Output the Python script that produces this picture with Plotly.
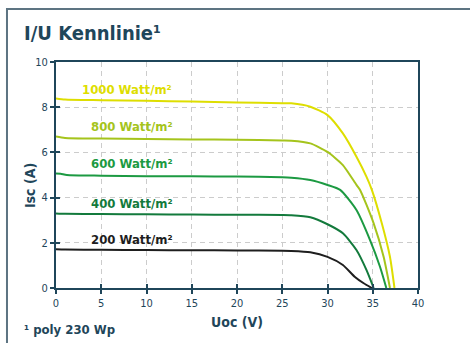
import plotly.graph_objects as go

# ---- data ----
series_names = ["1000 Watt/m²", "800 Watt/m²", "600 Watt/m²", "400 Watt/m²", "200 Watt/m²"]

u_1000 = [0, 1, 5, 10, 15, 20, 25, 26, 28.1, 30, 31.7, 33.2, 34.3, 34.9, 36.0, 36.9, 37.4]
i_1000 = [8.39, 8.34, 8.31, 8.28, 8.25, 8.21, 8.18, 8.17, 8.02, 7.65, 6.84, 5.81, 4.93, 4.34, 2.86, 1.38, 0]

u_800 = [0, 1, 5, 10, 15, 20, 25, 26, 28.1, 30, 31.7, 33.2, 33.6, 35.1, 36.2, 36.9]
i_800 = [6.70, 6.64, 6.61, 6.59, 6.57, 6.56, 6.53, 6.52, 6.40, 6.02, 5.44, 4.56, 4.34, 2.86, 1.38, 0]

u_600 = [0, 0.5, 1.2, 5, 10, 15, 20, 25, 26, 28.1, 30, 31.4, 33.2, 34.7, 35.8, 36.5]
i_600 = [5.07, 5.06, 5.00, 4.97, 4.95, 4.94, 4.93, 4.90, 4.88, 4.78, 4.56, 4.34, 3.45, 2.12, 0.94, 0]

u_400 = [0, 1, 5, 10, 15, 20, 25, 26, 28.1, 30, 31.7, 33.2, 34.3, 35.1]
i_400 = [3.30, 3.28, 3.27, 3.26, 3.25, 3.24, 3.23, 3.22, 3.13, 2.82, 2.42, 1.68, 0.80, 0]

u_200 = [0, 1, 5, 10, 15, 20, 25, 26, 28.1, 30, 31.7, 33.0, 34.0, 34.9]
i_200 = [1.71, 1.70, 1.69, 1.68, 1.67, 1.66, 1.65, 1.64, 1.58, 1.38, 1.02, 0.50, 0.21, 0]

label_u = [2.7, 3.6, 3.6, 3.6, 3.6]
label_i = [8.78, 7.13, 5.49, 3.76, 2.13]

x_ticks = [0, 5, 10, 15, 20, 25, 30, 35, 40]
y_ticks = [0, 2, 4, 6, 8, 10]

colors = ["#dede00", "#a5c41c", "#1c9a42", "#137a3c", "#1e1e1e"]
dark = "#1f465a"
FONT = "DejaVu Sans Condensed, Liberation Sans Narrow, Arial Narrow, sans-serif"

fig = go.Figure()
curves = [(u_1000, i_1000), (u_800, i_800), (u_600, i_600), (u_400, i_400), (u_200, i_200)]
for (u, i), name, c in zip(curves, series_names, colors):
    fig.add_trace(go.Scatter(x=u, y=i, mode="lines", name=name,
                             line=dict(color=c, width=2, shape="spline", smoothing=0.6),
                             hoverinfo="skip"))

# invisible trace to anchor the overlay axes (inside tick marks)
fig.add_trace(go.Scatter(x=[0], y=[0], xaxis="x2", yaxis="y2", mode="markers",
                         marker=dict(opacity=0), showlegend=False, hoverinfo="skip"))

for name, c, lu, li in zip(series_names, colors, label_u, label_i):
    fig.add_annotation(x=lu, y=li, text=name, showarrow=False, xanchor="left", yanchor="middle",
                       font=dict(family=FONT, size=13, color=c, weight="bold"))

axis_common = dict(showline=True, linecolor=dark, linewidth=2, mirror=True,
                   ticks="outside", ticklen=4, tickwidth=2, tickcolor=dark,
                   showgrid=True, gridcolor="#cccccc", griddash="5px,4px", gridwidth=1,
                   zeroline=False, tickfont=dict(family=FONT, size=11, color=dark))

fig.update_layout(
    width=470, height=343,
    margin=dict(l=56, r=52, t=62, b=55),
    paper_bgcolor="white", plot_bgcolor="white",
    showlegend=False,
    xaxis=dict(range=[0, 40], tickvals=x_ticks, **axis_common),
    yaxis=dict(range=[0, 10], tickvals=y_ticks, **axis_common),
    xaxis2=dict(overlaying="x", matches="x", range=[0, 40], tickvals=x_ticks, showticklabels=False,
                ticks="inside", ticklen=4, tickwidth=2, tickcolor=dark, showgrid=False,
                showline=False, zeroline=False, anchor="y2", side="bottom"),
    yaxis2=dict(overlaying="y", matches="y", range=[0, 10], tickvals=y_ticks, showticklabels=False,
                ticks="inside", ticklen=4, tickwidth=2, tickcolor=dark, showgrid=False,
                showline=False, zeroline=False, anchor="x2", side="left"),
)

# outer frame (left and top edges visible)
fig.add_shape(type="rect", xref="paper", yref="paper", x0=-0.1354, x1=1.3, y0=-0.4, y1=1.2345,
              line=dict(color="#5d7482", width=2), layer="below")

fig.add_annotation(xref="paper", yref="paper", x=-0.094, y=1.13, text="I/U Kennlinie¹",
                   showarrow=False, xanchor="left", yanchor="middle",
                   font=dict(family=FONT, size=20, color=dark, weight="bold"))
fig.add_annotation(xref="paper", yref="paper", x=0.5, y=-0.15, text="Uoc (V)",
                   showarrow=False, xanchor="center", yanchor="middle",
                   font=dict(family=FONT, size=14, color=dark, weight="bold"))
fig.add_annotation(xref="paper", yref="paper", x=-0.072, y=0.455, text="Isc (A)", textangle=-90,
                   showarrow=False, xanchor="center", yanchor="middle",
                   font=dict(family=FONT, size=14, color=dark, weight="bold"))
fig.add_annotation(xref="paper", yref="paper", x=-0.094, y=-0.185, text="¹ poly 230 Wp",
                   showarrow=False, xanchor="left", yanchor="middle",
                   font=dict(family=FONT, size=13, color=dark, weight="bold"))

fig.write_html("out.html", config={"displayModeBar": False},
               post_script="document.body.style.margin='0';")
